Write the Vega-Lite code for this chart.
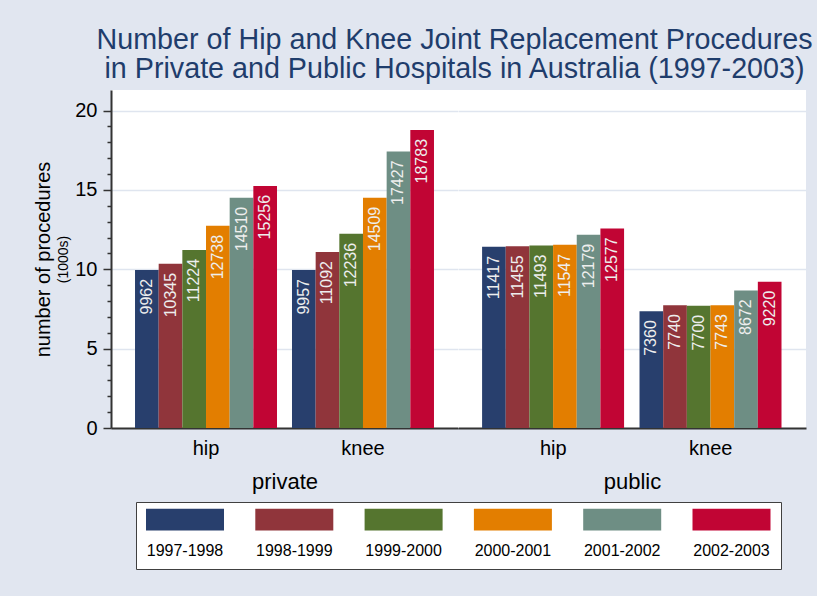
{
  "$schema": "https://vega.github.io/schema/vega-lite/v6.json",
  "background": "#e1e6f0",
  "padding": {"left": 33, "top": 26, "right": 10, "bottom": 26},
  "title": {
    "text": ["Number of Hip and Knee Joint Replacement Procedures", "in Private and Public Hospitals in Australia (1997-2003)"],
    "fontSize": 28.7,
    "font": "Liberation Sans",
    "fontWeight": "normal",
    "color": "#1f3d6c",
    "anchor": "middle",
    "frame": "group",
    "dx": 343.5,
    "lineHeight": 29,
    "offset": 6
  },
  "data": {
    "values": [
      {"sector": "private", "part": "hip", "year": "1997-1998", "procedures": 9962},
      {"sector": "private", "part": "hip", "year": "1998-1999", "procedures": 10345},
      {"sector": "private", "part": "hip", "year": "1999-2000", "procedures": 11224},
      {"sector": "private", "part": "hip", "year": "2000-2001", "procedures": 12738},
      {"sector": "private", "part": "hip", "year": "2001-2002", "procedures": 14510},
      {"sector": "private", "part": "hip", "year": "2002-2003", "procedures": 15256},
      {"sector": "private", "part": "knee", "year": "1997-1998", "procedures": 9957},
      {"sector": "private", "part": "knee", "year": "1998-1999", "procedures": 11092},
      {"sector": "private", "part": "knee", "year": "1999-2000", "procedures": 12236},
      {"sector": "private", "part": "knee", "year": "2000-2001", "procedures": 14509},
      {"sector": "private", "part": "knee", "year": "2001-2002", "procedures": 17427},
      {"sector": "private", "part": "knee", "year": "2002-2003", "procedures": 18783},
      {"sector": "public", "part": "hip", "year": "1997-1998", "procedures": 11417},
      {"sector": "public", "part": "hip", "year": "1998-1999", "procedures": 11455},
      {"sector": "public", "part": "hip", "year": "1999-2000", "procedures": 11493},
      {"sector": "public", "part": "hip", "year": "2000-2001", "procedures": 11547},
      {"sector": "public", "part": "hip", "year": "2001-2002", "procedures": 12179},
      {"sector": "public", "part": "hip", "year": "2002-2003", "procedures": 12577},
      {"sector": "public", "part": "knee", "year": "1997-1998", "procedures": 7360},
      {"sector": "public", "part": "knee", "year": "1998-1999", "procedures": 7740},
      {"sector": "public", "part": "knee", "year": "1999-2000", "procedures": 7700},
      {"sector": "public", "part": "knee", "year": "2000-2001", "procedures": 7743},
      {"sector": "public", "part": "knee", "year": "2001-2002", "procedures": 8672},
      {"sector": "public", "part": "knee", "year": "2002-2003", "procedures": 9220}
    ]
  },
  "spacing": 0,
  "hconcat": [
    {
      "width": 347,
      "height": 338,
      "transform": [{"filter": "datum.sector === 'private'"}],
      "encoding": {
        "x": {
          "field": "part", "type": "nominal",
          "scale": {"paddingInner": 0.0955, "paddingOuter": 0.153},
          "axis": {"title": "private"}
        },
        "xOffset": {"field": "year", "type": "nominal", "scale": {"paddingInner": 0, "paddingOuter": 0}}
      },
      "layer": [
        {
          "mark": {"type": "bar", "cornerRadius": 0},
          "encoding": {
            "y": {
              "field": "procedures", "type": "quantitative",
              "scale": {"domain": [0, 21300], "nice": false, "zero": true},
              "axis": {
                "values": [0, 1000, 2000, 3000, 4000, 5000, 6000, 7000, 8000, 9000, 10000, 11000, 12000, 13000, 14000, 15000, 16000, 17000, 18000, 19000, 20000],
                "labelExpr": "datum.value % 5000 === 0 ? format(datum.value / 1000, 'd') : ''",
                "tickSize": {"condition": {"test": "datum.value % 5000 === 0", "value": 8}, "value": 4},
                "gridOpacity": {"condition": {"test": "datum.value % 5000 === 0 && datum.value > 0", "value": 1}, "value": 0},
                "grid": true,
                "labelPadding": 6,
                "title": "(1000s)",
                "titleFontSize": 14,
                "titlePadding": 4
              }
            },
            "color": {
              "field": "year", "type": "nominal",
              "scale": {"range": ["#283f6d", "#90353b", "#55752f", "#e37e00", "#6e8e84", "#c10534"]},
              "legend": {"title": null, "orient": "none", "legendX": 25, "legendY": 412}
            }
          }
        },
        {
          "mark": {"type": "text", "angle": 270, "align": "right", "baseline": "middle", "dx": -9, "fontSize": 16, "font": "Liberation Sans", "color": "#eeeeee"},
          "encoding": {
            "y": {
              "field": "procedures", "type": "quantitative",
              "scale": {"domain": [0, 21300], "nice": false, "zero": true},
              "axis": {
                "orient": "left",
                "title": "number of procedures",
                "titleFontSize": 20,
                "labels": false, "ticks": false, "domain": false, "grid": false,
                "titlePadding": 58
              }
            },
            "text": {"field": "procedures", "type": "quantitative"}
          }
        }
      ],
      "resolve": {"scale": {"y": "independent"}}
    },
    {
      "width": 348,
      "height": 338,
      "transform": [{"filter": "datum.sector === 'public'"}],
      "encoding": {
        "x": {
          "field": "part", "type": "nominal",
          "scale": {"paddingInner": 0.0955, "paddingOuter": 0.153},
          "axis": {"title": "public"}
        },
        "xOffset": {"field": "year", "type": "nominal", "scale": {"paddingInner": 0, "paddingOuter": 0}},
        "y": {
          "field": "procedures", "type": "quantitative",
          "scale": {"domain": [0, 21300], "nice": false, "zero": true},
          "axis": {
            "values": [5000, 10000, 15000, 20000],
            "grid": true, "labels": false, "ticks": false, "domain": false, "title": null
          }
        }
      },
      "layer": [
        {
          "mark": {"type": "bar"},
          "encoding": {
            "color": {"field": "year", "type": "nominal", "legend": {"title": null, "orient": "none", "legendX": 25, "legendY": 412}}
          }
        },
        {
          "mark": {"type": "text", "angle": 270, "align": "right", "baseline": "middle", "dx": -9, "fontSize": 16, "font": "Liberation Sans", "color": "#eeeeee"},
          "encoding": {
            "text": {"field": "procedures", "type": "quantitative"}
          }
        }
      ]
    }
  ],
  "resolve": {"scale": {"color": "shared", "y": "independent"}},
  "config": {
    "font": "Liberation Sans",
    "view": {"fill": "#ffffff", "stroke": null},
    "axis": {
      "labelFont": "Liberation Sans",
      "titleFont": "Liberation Sans",
      "labelColor": "#000000",
      "titleColor": "#000000",
      "titleFontWeight": "normal",
      "domainColor": "#333333",
      "domainWidth": 2,
      "tickColor": "#333333",
      "tickWidth": 1.5,
      "gridColor": "#dfe5ef",
      "gridWidth": 1.5,
      "labelFontSize": 20
    },
    "axisX": {
      "labelAngle": 0,
      "ticks": false,
      "labelPadding": 10,
      "titleFontSize": 22,
      "titlePadding": 13
    },
    "legend": {
      "direction": "horizontal",
      "columns": 6,
      "symbolType": "M-1,-1.083H1V-0.527H-1Z",
      "symbolSize": 6084,
      "symbolStrokeWidth": 0,
      "symbolOpacity": 1,
      "labelOffset": -39,
      "labelAlign": "center",
      "labelFontSize": 16,
      "labelFont": "Liberation Sans",
      "labelColor": "#000000",
      "columnPadding": 31.3,
      "padding": 10,
      "strokeColor": "#404040",
      "fillColor": "#ffffff"
    }
  }
}
